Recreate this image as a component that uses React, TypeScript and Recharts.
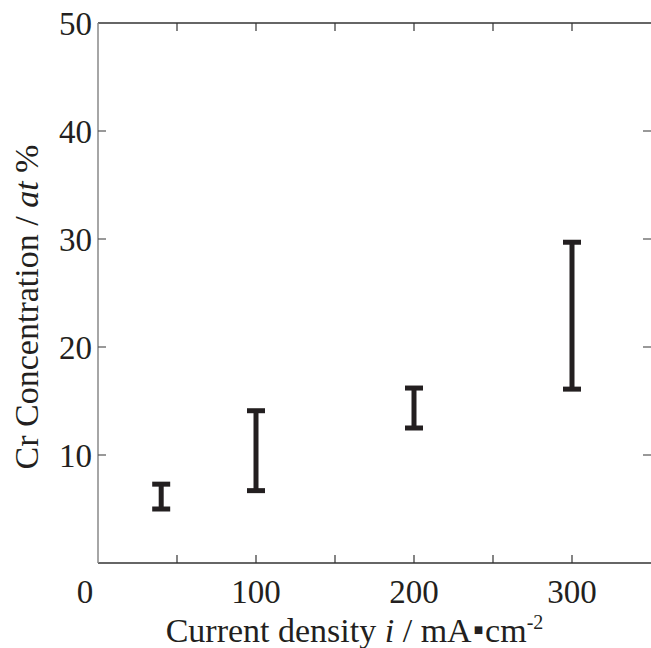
import React from 'react';
import { ComposedChart, Scatter, ErrorBar, XAxis, YAxis } from 'recharts';

// current density (mA/cm2) and measured Cr range (at%)
const currents = [40, 100, 200, 300];
const lows = [5.0, 6.7, 12.5, 16.1];
const highs = [7.3, 14.1, 16.2, 29.7];

const xTicks = [0, 50, 100, 150, 200, 250, 300, 350];
const xLabels = [0, 100, 200, 300];
const yTicks = [0, 10, 20, 30, 40, 50];

const data = currents.map((c, i) => {
  const mid = (lows[i] + highs[i]) / 2;
  return { x: c, y: mid, err: [mid - lows[i], highs[i] - mid] };
});

const FONT = '"Liberation Serif", "Times New Roman", serif';
const INK = '#231f20';
const TICK = 8;

const LeftTick = ({ x, y, payload }: any) => (
  <g>
    {payload.value !== 0 && payload.value !== 50 && (
      <line x1={x + 6} x2={x + 6 + TICK} y1={y} y2={y} stroke="#555" strokeWidth={1.2} />
    )}
    {payload.value !== 0 && (
      <text x={x} y={y + 11.5} textAnchor="end" fontFamily={FONT} fontSize={33} fill={INK}>
        {payload.value}
      </text>
    )}
  </g>
);

const RightTick = ({ x, y, payload }: any) =>
  payload.value === 0 || payload.value === 50 ? null : (
    <line x1={x - TICK} x2={x} y1={y} y2={y} stroke="#555" strokeWidth={1.2} />
  );

const BottomTick = ({ x, y, payload }: any) => (
  <g>
    {payload.value !== 0 && payload.value !== 350 && (
      <line x1={x} x2={x} y1={y} y2={y - TICK} stroke="#333" strokeWidth={1.2} />
    )}
    {xLabels.includes(payload.value) && (
      <text
        x={payload.value === 0 ? x - 13 : x}
        y={y + 40}
        textAnchor="middle"
        fontFamily={FONT}
        fontSize={33}
        fill={INK}
      >
        {payload.value}
      </text>
    )}
  </g>
);

const TopTick = ({ x, y, payload }: any) =>
  payload.value === 0 || payload.value === 350 ? null : (
    <line x1={x} x2={x} y1={y} y2={y + TICK} stroke="#333" strokeWidth={1.2} />
  );

const YTitle = ({ viewBox }: any) => {
  const cx = viewBox.x + 38;
  const cy = viewBox.y + viewBox.height / 2 + 14;
  return (
    <text
      x={cx}
      y={cy}
      transform={`rotate(-90 ${cx} ${cy})`}
      textAnchor="middle"
      fontFamily={FONT}
      fontSize={34}
      fill={INK}
    >
      Cr Concentration / <tspan fontStyle="italic">at</tspan> %
    </text>
  );
};

const XTitle = ({ viewBox }: any) => (
  <text
    x={viewBox.x + viewBox.width / 2 - 20}
    y={viewBox.y + 79}
    textAnchor="middle"
    fontFamily={FONT}
    fontSize={34}
    fill={INK}
  >
    Current density <tspan fontStyle="italic">i</tspan> / mA
    <tspan fontFamily="DejaVu Sans" fontSize={10} dy={-9}>{'\u2009■\u2009'}</tspan>
    <tspan dy={9}>cm</tspan>
    <tspan fontSize={20} dy={-13}>-2</tspan>
  </text>
);

export default function App() {
  return (
    <div style={{ position: 'absolute', left: 0, top: 0, background: '#fff' }}>
      <ComposedChart
        width={651}
        height={648}
        data={data}
        margin={{ top: 22, right: -1, bottom: 0, left: 0 }}
      >
        <XAxis
          dataKey="x"
          type="number"
          domain={[0, 350]}
          ticks={xTicks}
          interval={0}
          height={85}
          tickSize={0}
          tickMargin={0}
          tickLine={false}
          axisLine={{ stroke: '#333', strokeWidth: 1.5 }}
          tick={<BottomTick />}
          label={<XTitle />}
        />
        <XAxis
          xAxisId="top"
          dataKey="x"
          orientation="top"
          type="number"
          domain={[0, 350]}
          ticks={xTicks}
          interval={0}
          height={1}
          tickSize={0}
          tickMargin={0}
          tickLine={false}
          axisLine={{ stroke: '#333', strokeWidth: 1.5 }}
          tick={<TopTick />}
        />
        <YAxis
          type="number"
          domain={[0, 50]}
          ticks={yTicks}
          interval={0}
          width={98}
          tickSize={0}
          tickMargin={6}
          tickLine={false}
          axisLine={{ stroke: '#888', strokeWidth: 1.5 }}
          tick={<LeftTick />}
          label={<YTitle />}
        />
        <YAxis
          yAxisId="right"
          orientation="right"
          type="number"
          domain={[0, 50]}
          ticks={yTicks}
          interval={0}
          width={1}
          tickSize={0}
          tickMargin={0}
          tickLine={false}
          axisLine={false}
          tick={<RightTick />}
        />
        <Scatter dataKey="y" isAnimationActive={false} shape={() => <g />}>
          <ErrorBar
            dataKey="err"
            direction="y"
            width={9}
            strokeWidth={5}
            stroke={INK}
            isAnimationActive={false}
          />
        </Scatter>
        <Scatter
          xAxisId="top"
          yAxisId="right"
          dataKey="y"
          isAnimationActive={false}
          shape={() => <g />}
        />
      </ComposedChart>
    </div>
  );
}
